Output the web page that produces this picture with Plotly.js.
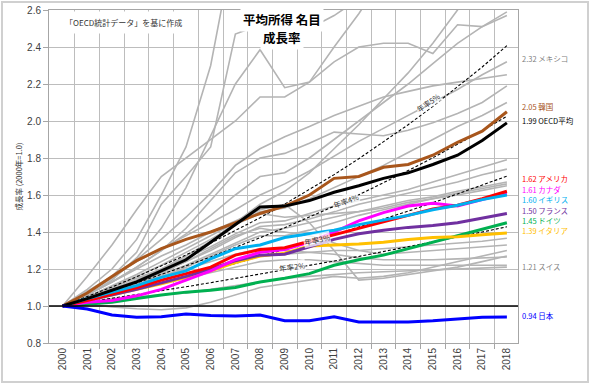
<!DOCTYPE html>
<html><head><meta charset="utf-8">
<script src="https://cdn.plot.ly/plotly-3.0.1.min.js"></script>
<style>
body{margin:0;background:#fff}
#chart{width:590px;height:383px;position:absolute;left:0;top:0}
#frame{position:absolute;left:1px;top:1px;width:584px;height:378px;border:2px solid #d0d0d0;pointer-events:none}
</style>
</head><body><div id="chart"></div><div id="frame"></div>
<script>
const years = [2000,2001,2002,2003,2004,2005,2006,2007,2008,2009,2010,2011,2012,2013,2014,2015,2016,2017,2018];

// highlighted series (2000 = 1.0)
const japan   = [1.00,0.984,0.951,0.939,0.942,0.957,0.948,0.946,0.951,0.92,0.92,0.942,0.914,0.912,0.914,0.92,0.93,0.939,0.94];
const oecd    = [1.00,1.04,1.085,1.13,1.19,1.25,1.345,1.44,1.535,1.54,1.57,1.615,1.65,1.69,1.72,1.765,1.815,1.895,1.99];
const korea   = [1.00,1.07,1.16,1.245,1.31,1.36,1.40,1.45,1.50,1.54,1.60,1.69,1.70,1.75,1.765,1.815,1.885,1.945,2.05];
const usa     = [1.00,1.03,1.065,1.10,1.14,1.175,1.21,1.275,1.305,1.315,1.35,1.385,1.42,1.455,1.49,1.525,1.545,1.58,1.62];
const canada  = [1.00,1.02,1.03,1.055,1.09,1.14,1.19,1.25,1.29,1.305,1.345,1.40,1.46,1.505,1.54,1.555,1.54,1.575,1.61];
const uk      = [1.00,1.04,1.075,1.11,1.155,1.19,1.255,1.31,1.33,1.37,1.39,1.41,1.44,1.465,1.49,1.52,1.545,1.575,1.60];
const france  = [1.00,1.03,1.06,1.09,1.125,1.16,1.20,1.245,1.275,1.28,1.32,1.36,1.39,1.41,1.425,1.435,1.45,1.475,1.50];
const germany = [1.00,1.01,1.02,1.04,1.06,1.075,1.085,1.10,1.13,1.15,1.175,1.22,1.25,1.275,1.31,1.345,1.38,1.415,1.45];
const italy   = [1.00,1.03,1.06,1.09,1.12,1.155,1.19,1.235,1.27,1.285,1.325,1.33,1.335,1.345,1.36,1.37,1.375,1.385,1.395];
const mexico  = [1.00,1.08,1.16,1.24,1.31,1.38,1.45,1.52,1.60,1.66,1.73,1.81,1.89,1.96,2.03,2.10,2.17,2.25,2.32];
const swiss   = [1.00,1.02,1.04,1.05,1.06,1.07,1.09,1.11,1.13,1.15,1.16,1.17,1.18,1.185,1.19,1.195,1.20,1.205,1.21];

// other OECD countries (grey)
const other01 = [1.00,1.09,1.20,1.36,1.60,1.86,2.30,3.00,3.40,3.30,3.40,3.60,3.80,4.00,4.20,4.40,4.60,4.80,5.00];
const other02 = [1.00,1.07,1.16,1.29,1.55,1.70,1.86,2.47,2.52,2.47,2.50,2.57,2.66,2.80,2.95,3.10,3.25,3.40,3.55];
const other03 = [1.00,1.06,1.14,1.26,1.42,1.64,1.92,2.20,2.385,2.18,2.21,2.40,2.58,2.78,2.95,3.10,3.25,3.40,3.55];
const other04 = [1.00,1.16,1.33,1.52,1.70,1.80,1.90,2.00,2.13,2.13,2.21,2.32,2.40,2.42,2.42,2.365,2.52,2.51,2.57];
const other05 = [1.00,1.07,1.15,1.25,1.36,1.48,1.61,1.76,1.85,1.915,1.97,2.03,2.08,2.13,2.16,2.19,2.21,2.23,2.25];
const other06 = [1.00,1.06,1.13,1.21,1.30,1.42,1.57,1.72,1.80,1.825,1.88,1.94,1.93,1.92,1.95,1.99,2.04,2.10,2.19];
const other07 = [1.00,1.04,1.09,1.14,1.20,1.27,1.35,1.45,1.55,1.62,1.72,1.85,1.98,2.12,2.26,2.42,2.60,2.80,3.00];
const other08 = [1.00,1.06,1.13,1.21,1.30,1.39,1.49,1.60,1.70,1.72,1.80,1.90,2.00,2.10,2.20,2.31,2.42,2.51,2.59];
const other09 = [1.00,1.05,1.11,1.17,1.24,1.31,1.38,1.45,1.51,1.53,1.58,1.64,1.70,1.76,1.83,1.90,1.97,2.03,2.10];
const other10 = [1.00,1.05,1.10,1.15,1.20,1.26,1.32,1.39,1.45,1.46,1.50,1.54,1.57,1.60,1.63,1.67,1.71,1.75,1.79];
const other11 = [1.00,1.04,1.08,1.13,1.18,1.24,1.30,1.37,1.43,1.44,1.47,1.51,1.55,1.58,1.61,1.64,1.67,1.71,1.74];
const other12 = [1.00,1.04,1.08,1.12,1.17,1.22,1.28,1.34,1.40,1.42,1.45,1.48,1.51,1.54,1.57,1.59,1.62,1.645,1.67];
const other13 = [1.00,1.03,1.07,1.11,1.16,1.21,1.27,1.33,1.38,1.38,1.41,1.45,1.49,1.52,1.55,1.58,1.61,1.635,1.66];
const other14 = [1.00,1.05,1.10,1.16,1.22,1.29,1.36,1.44,1.50,1.48,1.49,1.50,1.51,1.53,1.56,1.58,1.60,1.625,1.65];
const other15 = [1.00,1.03,1.06,1.09,1.12,1.16,1.20,1.24,1.27,1.28,1.29,1.30,1.30,1.31,1.32,1.33,1.34,1.35,1.366];
const other16 = [1.00,1.04,1.08,1.13,1.18,1.24,1.31,1.38,1.42,1.40,1.38,1.34,1.30,1.28,1.29,1.30,1.31,1.32,1.33];
const other17 = [1.00,1.01,0.995,0.985,0.98,0.99,1.02,1.06,1.10,1.12,1.14,1.16,1.15,1.16,1.18,1.21,1.24,1.27,1.30];
const other18 = [1.00,1.06,1.13,1.20,1.27,1.33,1.40,1.46,1.52,1.55,1.45,1.30,1.14,1.15,1.17,1.19,1.21,1.24,1.27];
const other19 = [1.00,1.04,1.08,1.12,1.16,1.20,1.24,1.28,1.31,1.30,1.29,1.28,1.26,1.25,1.25,1.25,1.255,1.26,1.265];
const other20 = [1.00,1.03,1.06,1.09,1.12,1.15,1.18,1.21,1.24,1.25,1.25,1.24,1.23,1.22,1.22,1.22,1.22,1.22,1.22];

// reference growth lines (annual rate)
const rate5 = [1.000,1.050,1.103,1.158,1.216,1.276,1.340,1.407,1.477,1.551,1.629,1.710,1.796,1.886,1.980,2.079,2.183,2.292,2.407];
const rate4 = [1.000,1.040,1.082,1.125,1.170,1.217,1.265,1.316,1.369,1.423,1.480,1.539,1.601,1.665,1.732,1.801,1.873,1.948,2.026];
const rate3 = [1.000,1.030,1.061,1.093,1.126,1.159,1.194,1.230,1.267,1.305,1.344,1.384,1.426,1.469,1.513,1.558,1.605,1.653,1.702];
const rate2 = [1.000,1.020,1.040,1.061,1.082,1.104,1.126,1.149,1.172,1.195,1.219,1.243,1.268,1.294,1.319,1.346,1.373,1.400,1.428];

const greyNames = ['other01','other02','other03','other04','other05','other06','other07','other08','other09','other10',
  'other11','other12','other13','other14','other15','other16','other17','other18','other19','other20','メキシコ','スイス'];
const greySeries = [other01,other02,other03,other04,other05,other06,other07,other08,other09,other10,
  other11,other12,other13,other14,other15,other16,other17,other18,other19,other20,mexico,swiss];

const highlight = [
  {name:'ドイツ', y:germany, color:'#00b050'},
  {name:'イタリア', y:italy, color:'#ffc000'},
  {name:'フランス', y:france, color:'#7030a0'},
  {name:'カナダ', y:canada, color:'#ff00ff'},
  {name:'アメリカ', y:usa, color:'#ff0000'},
  {name:'イギリス', y:uk, color:'#00b0f0'},
  {name:'韓国', y:korea, color:'#a8561c'},
  {name:'OECD平均', y:oecd, color:'#000000'},
  {name:'日本', y:japan, color:'#0000ff'}
];

const traces = [];
greySeries.forEach((s,i)=>traces.push({x:years,y:s,name:greyNames[i],mode:'lines',
  line:{color:'#b4b4b4',width:1.6},hoverinfo:'skip'}));
[rate5,rate4,rate3,rate2].forEach((s,i)=>traces.push({x:years,y:s,name:'rate'+(5-i),mode:'lines',
  line:{color:'#000',width:1.1,dash:'3px,2px'},hoverinfo:'skip'}));
highlight.forEach(h=>traces.push({x:years,y:h.y,name:h.name,mode:'lines',
  line:{color:h.color,width:3},hoverinfo:'skip'}));

// right-side labels (label positions, in value units)
const endLabels = [
  {text:'2.32 メキシコ', color:'#7f7f7f', y:2.34},
  {text:'2.05 韓国', color:'#a8561c', y:2.078},
  {text:'1.99 OECD平均', color:'#000000', y:2.003},
  {text:'1.62 アメリカ', color:'#ff0000', y:1.688},
  {text:'1.61 カナダ', color:'#ff00ff', y:1.632},
  {text:'1.60 イギリス', color:'#00b0f0', y:1.577},
  {text:'1.50 フランス', color:'#7030a0', y:1.514},
  {text:'1.45 ドイツ', color:'#00b050', y:1.461},
  {text:'1.39 イタリア', color:'#ffc000', y:1.408},
  {text:'1.21 スイス', color:'#7f7f7f', y:1.211},
  {text:'0.94 日本', color:'#0000ff', y:0.946}
];
const jp = '"Noto Sans CJK JP", "Noto Sans", sans-serif';
const annotations = endLabels.map(l=>({xref:'paper',yref:'y',x:1.006,y:l.y,xanchor:'left',yanchor:'middle',
  text:l.text,showarrow:false,borderpad:0,font:{family:jp,size:7.5,color:l.color}}));

const rateLabels = [
  {text:'年率5%', x:2014.8, y:2.10, angle:-35},
  {text:'年率4%', x:2011.5, y:1.568, angle:-20},
  {text:'年率3%', x:2010.3, y:1.357, angle:-12},
  {text:'年率2%', x:2009.3, y:1.211, angle:-8}
];
rateLabels.forEach(r=>annotations.push({xref:'x',yref:'y',x:r.x,y:r.y,text:r.text,textangle:r.angle,showarrow:false,
  font:{family:jp,size:7.5,color:'#333'},bgcolor:'rgba(255,255,255,0.75)',borderpad:0}));

const titleLines = ['平均所得 名目','成長率'];
const titleY = [0.970, 0.916];
titleLines.forEach((t,i)=>annotations.push({xref:'paper',yref:'paper',x:0.497,y:titleY[i],xanchor:'center',yanchor:'middle',
  text:t,showarrow:false,font:{family:jp,size:12.5,color:'#000',weight:'bold'},bgcolor:'#ffffff',borderpad:2}));
annotations.push({xref:'paper',yref:'paper',x:0.158,y:0.961,xanchor:'center',yanchor:'middle',
  text:'「OECD統計データ」を基に作成',showarrow:false,
  font:{family:jp,size:8,color:'#333'},bgcolor:'#ffffff',borderpad:5});
annotations.push({xref:'paper',yref:'paper',x:-0.066,y:0.5,xanchor:'center',yanchor:'middle',
  text:'成長率 (2000年=1.0)',textangle:-90,showarrow:false,
  font:{family:jp,size:7.5,color:'#333'}});

const boundaries = years.slice(0,-1).map(y=>y+0.5);

const layout = {
  width:590,height:383,
  margin:{l:49,r:72,t:10,b:40},
  paper_bgcolor:'#ffffff',plot_bgcolor:'#ffffff',
  showlegend:false,
  xaxis:{range:[1999.45,2018.45],tickmode:'array',tickvals:years,ticktext:years.map(String),
    tickangle:-90,showgrid:false,ticks:'',zeroline:false,
    showline:true,linecolor:'#a6a6a6',linewidth:1,mirror:true,
    tickfont:{family:'"Liberation Sans", Arial, sans-serif',size:10,color:'#404040'},
    minor:{tickmode:'array',tickvals:boundaries,showgrid:true,gridcolor:'#bdbdbd',gridwidth:1,
      ticks:'outside',ticklen:5,tickcolor:'#a6a6a6'}},
  yaxis:{range:[0.8,2.6],tick0:0.8,dtick:0.2,tickformat:'.1f',
    showgrid:true,gridcolor:'#bdbdbd',gridwidth:1,zeroline:false,
    ticks:'outside',ticklen:5,tickcolor:'#a6a6a6',
    showline:true,linecolor:'#a6a6a6',linewidth:1,mirror:true,
    tickfont:{family:'"Liberation Sans", Arial, sans-serif',size:10,color:'#404040'}},
  shapes:[{type:'line',xref:'paper',x0:0,x1:1,yref:'y',y0:1,y1:1,line:{color:'#000',width:1.6}}],
  annotations:annotations
};
Plotly.newPlot('chart',traces,layout,{staticPlot:true,displayModeBar:false});
</script></body></html>
